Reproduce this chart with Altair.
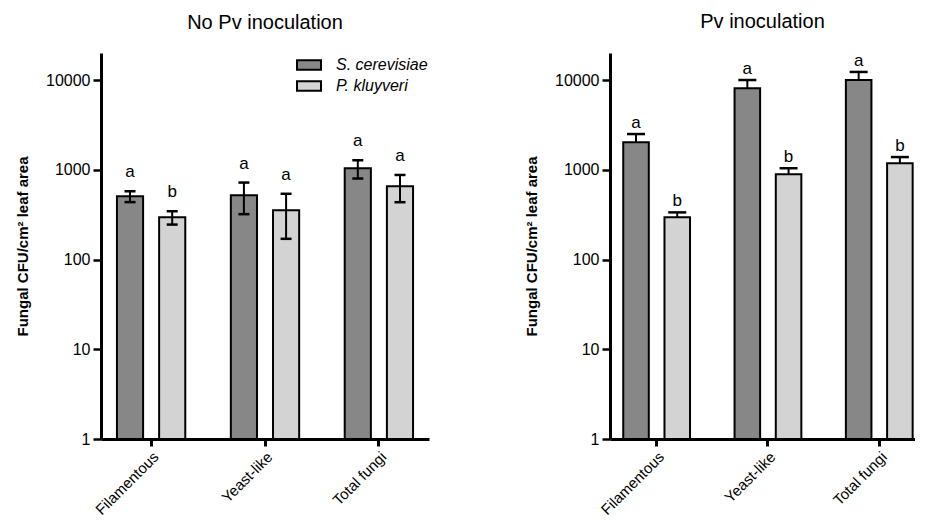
import altair as alt
import pandas as pd

categories = ["Filamentous", "Yeast-like", "Total fungi"]
species = ["S. cerevisiae", "P. kluyveri"]

# No Pv inoculation (mean, error)
nopv_sc = [506, 520, 1040]
nopv_sc_err = [70, 200, 240]
nopv_pk = [295, 355, 655]
nopv_pk_err = [50, 185, 220]
nopv_sc_letters = ["a", "a", "a"]
nopv_pk_letters = ["b", "a", "a"]

# Pv inoculation (mean, upper error)
pv_sc = [2030, 8100, 10000]
pv_sc_err = [470, 1900, 2300]
pv_pk = [295, 890, 1185]
pv_pk_err = [40, 150, 200]
pv_sc_letters = ["a", "a", "a"]
pv_pk_letters = ["b", "b", "b"]

y_ticks = [1, 10, 100, 1000, 10000]


def build(sc, sc_err, pk, pk_err, sc_let, pk_let, two_sided):
    rows = []
    for i, c in enumerate(categories):
        for sp, v, e, l in ((species[0], sc[i], sc_err[i], sc_let[i]),
                            (species[1], pk[i], pk_err[i], pk_let[i])):
            rows.append({"category": c, "species": sp, "value": v,
                         "upper": v + e, "lower": (v - e) if two_sided else v,
                         "letter": l, "base": 1})
    return pd.DataFrame(rows)


df_left = build(nopv_sc, nopv_sc_err, nopv_pk, nopv_pk_err, nopv_sc_letters, nopv_pk_letters, True)
df_right = build(pv_sc, pv_sc_err, pv_pk, pv_pk_err, pv_sc_letters, pv_pk_letters, False)

ytitle = "Fungal CFU/cm² leaf area"


def panel(df, title, colors, width, show_legend, cap, letter_dy, outer, align):
    xs = alt.X("category:N", sort=categories, title=None,
               scale=alt.Scale(paddingInner=0.4, paddingOuter=outer, align=align),
               axis=alt.Axis(labelAngle=-45, labelFontSize=15, labelColor="black",
                             domainWidth=3, domainColor="black", tickWidth=3,
                             tickSize=7, tickColor="black", labelPadding=3))
    xo = alt.XOffset("species:N", sort=species,
                     scale=alt.Scale(paddingInner=0.38, paddingOuter=0))
    legend = None
    if show_legend:
        legend = alt.Legend(title=None, orient="none", legendX=199, legendY=3,
                            symbolType="M-1.5,-0.6H1.5V0.6H-1.5Z", symbolSize=256,
                            symbolStrokeColor="black", symbolStrokeWidth=2,
                            symbolOpacity=1, labelFont="Liberation Sans",
                            labelFontStyle="italic", labelFontSize=16,
                            labelColor="black", labelOffset=18, rowPadding=3)
    color = alt.Color("species:N", sort=species,
                      scale=alt.Scale(domain=species, range=colors), legend=legend)
    ysc = alt.Scale(type="log", domain=[1, 20000], nice=False)
    yax = alt.Axis(values=y_ticks, format="d", title=ytitle, titleFontSize=15,
                   titleFontWeight="bold", titleColor="black", titlePadding=15,
                   labelFontSize=16, labelColor="black", labelPadding=3,
                   domainWidth=3, domainColor="black", tickSize=8, tickWidth=2.5,
                   tickColor="black", grid=False)
    base = alt.Chart(df)
    bars = base.mark_bar(stroke="black", strokeWidth=2, opacity=1).encode(
        x=xs, xOffset=xo, y=alt.Y("value:Q", scale=ysc, axis=yax),
        y2="base:Q", fill=color)
    rules = base.mark_rule(color="black", strokeWidth=2).encode(
        x=alt.X("category:N", sort=categories), xOffset=xo,
        y="lower:Q", y2="upper:Q")
    caps_up = base.mark_tick(color="black", thickness=2.5, size=cap, opacity=1).encode(
        x=alt.X("category:N", sort=categories), xOffset=xo, y="upper:Q")
    layers = [bars, rules, caps_up]
    if df["lower"].ne(df["value"]).any():
        caps_lo = base.mark_tick(color="black", thickness=2.5, size=cap, opacity=1).encode(
            x=alt.X("category:N", sort=categories), xOffset=xo, y="lower:Q")
        layers.append(caps_lo)
    letters = base.mark_text(fontSize=17, color="black", baseline="middle",
                             dy=letter_dy).encode(
        x=alt.X("category:N", sort=categories), xOffset=xo, y="upper:Q",
        text="letter:N")
    layers.append(letters)
    return alt.layer(*layers).properties(
        width=width, height=386,
        title=alt.TitleParams(title, fontSize=20, fontWeight="normal",
                              color="black", offset=20, anchor="middle"))


left = panel(df_left, "No Pv inoculation", ["#878787", "#d3d3d3"], 328, True, 11, -19, 0.14, 0.5)
right = panel(df_right, "Pv inoculation", ["#4a4a4a", "#d3d3d3"], 305, False, 18, -11, 0.07, 0.85)

chart = alt.hconcat(left, right, spacing=95).resolve_scale(
    color="independent", x="independent", xOffset="independent"
).configure(
    font="Liberation Sans",
    padding={"left": 7, "top": 3, "right": 0, "bottom": 0},
).configure_view(stroke=None)

chart.save("out.html", embed_options={"renderer": "svg", "actions": False})
